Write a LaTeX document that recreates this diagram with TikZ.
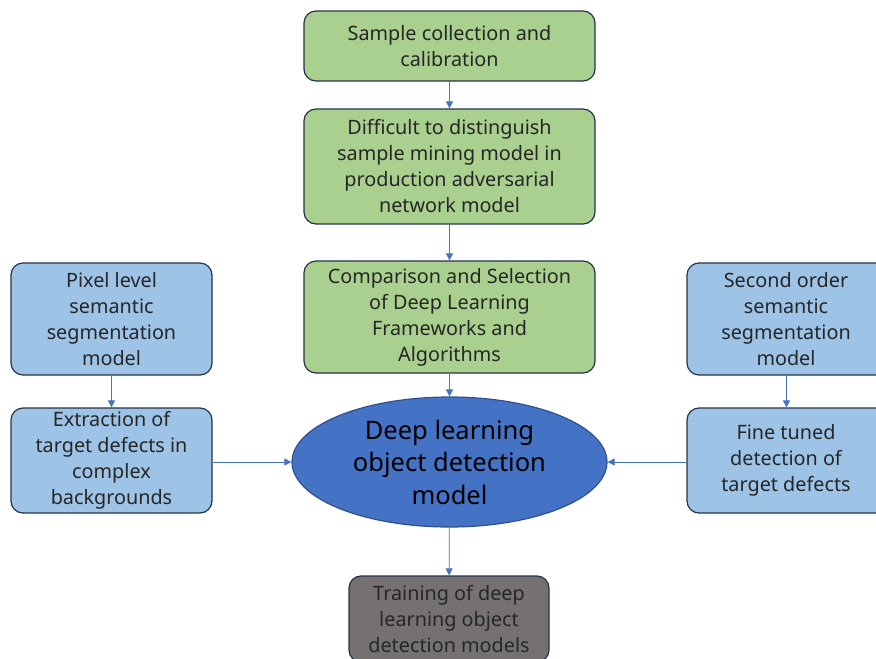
\documentclass[tikz,border=0pt]{standalone}
\usepackage{fontspec}
\setmainfont{Noto Sans}
\usetikzlibrary{shapes.geometric,arrows.meta}
\definecolor{gfill}{RGB}{169,208,142}
\definecolor{bfill}{RGB}{157,195,230}
\definecolor{efill}{RGB}{68,114,196}
\definecolor{eline}{RGB}{47,82,143}
\definecolor{gray1}{RGB}{118,113,113}
\definecolor{bord}{RGB}{38,50,72}
\definecolor{arr}{RGB}{68,114,196}
\begin{document}
\begin{tikzpicture}[x=1pt,y=-1pt,
  box/.style={draw=bord,line width=1.2pt,rounded corners=12pt,align=center,inner sep=0pt,
    font=\fontsize{19.8}{26}\selectfont,text=black!85},
  gbox/.style={box,fill=gfill,minimum width=291pt},
  bbox/.style={box,fill=bfill,minimum width=201pt},
  conn/.style={draw=arr,line width=0.8pt,-{Triangle[length=7pt,width=7pt]}}]
\useasboundingbox (0,0) rectangle (876,659);
\clip (0,0) rectangle (876,659);
\node[gbox,minimum height=70pt] (a) at (449.5,46) {Sample collection and\\calibration};
\node[gbox,minimum height=115pt] (b) at (449.5,166.5) {Difficult to distinguish\\sample mining model in\\production adversarial\\network model};
\node[gbox,minimum height=112pt] (c) at (449.5,317) {Comparison and Selection\\of Deep Learning\\Frameworks and\\Algorithms};
\node[ellipse,draw=eline,line width=1.2pt,fill=efill,minimum width=315pt,minimum height=130pt,inner sep=0pt,align=center,
  font=\fontsize{25.5}{32.5}\selectfont,text=black] (e) at (449.5,462) {Deep learning\\object detection\\model};
\node[box,fill=gray1,minimum width=200pt,minimum height=86pt] (t) at (449,619) {Training of deep\\learning object\\detection models};
\node[bbox,minimum height=112pt] (l1) at (111.5,319) {Pixel level\\semantic\\segmentation\\model};
\node[bbox,minimum height=105pt] (l2) at (111.5,460.5) {Extraction of\\target defects in\\complex\\backgrounds};
\node[bbox,minimum height=112pt] (r1) at (787.5,319) {};
\node[bbox,minimum height=105pt] (r2) at (787.5,460.5) {};
\node[align=center,font=\fontsize{19.8}{26}\selectfont,text=black!85] at (786,319) {Second order\\semantic\\segmentation\\model};
\node[align=center,font=\fontsize{19.8}{26}\selectfont,text=black!85] at (786,460.5) {Fine tuned\\detection of\\target defects};
\draw[conn] (a) -- (b);
\draw[conn] (b) -- (c);
\draw[conn] (c) -- (e);
\draw[conn] (e) -- (t);
\draw[conn] (l1) -- (l2);
\draw[conn] (r1.south) ++(-1,0) coordinate (r1s) -- (r1s |- r2.north);
\draw[conn] (l2.east |- e.center) -- (e);
\draw[conn] (r2.west |- e.center) -- (e);
\end{tikzpicture}
\end{document}
